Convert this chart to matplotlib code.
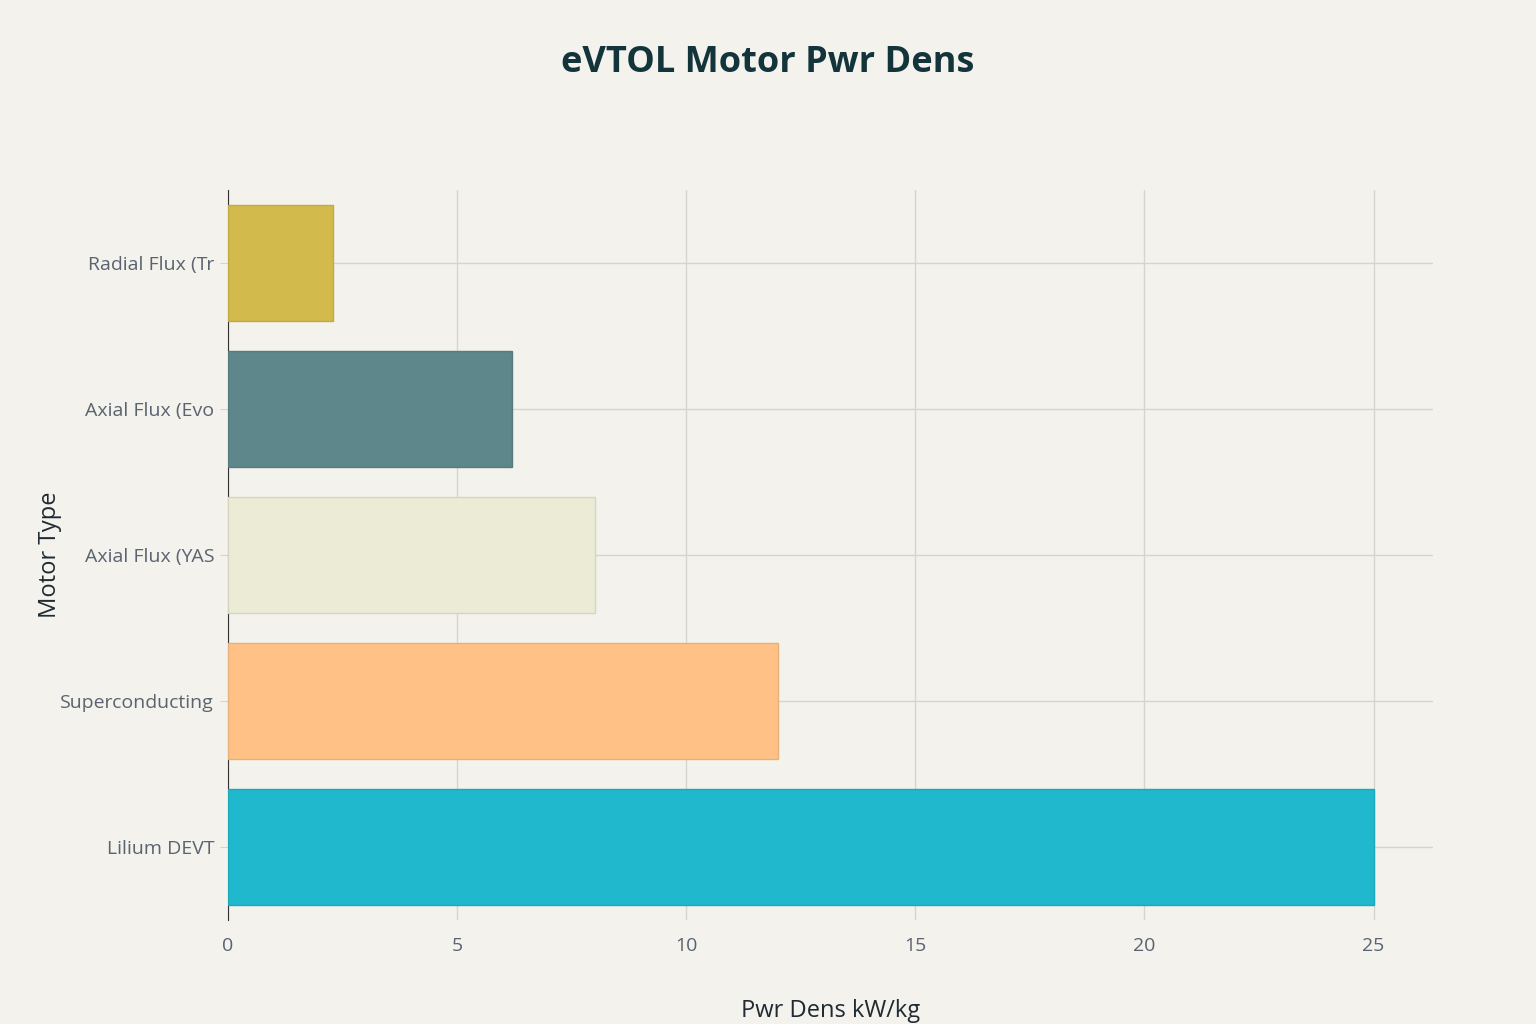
import matplotlib
matplotlib.use("Agg")
import matplotlib.pyplot as plt

categories = ["Radial Flux (Tr", "Axial Flux (Evo", "Axial Flux (YAS", "Superconducting", "Lilium DEVT"]
values = [2.3, 6.2, 8.0, 12.0, 25.0]
colors = ["#D2BA4C", "#5D878B", "#ECEBD5", "#FFC185", "#1FB8CD"]
edges = ["#C0AA45", "#557B7F", "#D6D5C0", "#E8B079", "#1CA8BB"]
xticks = [0, 5, 10, 15, 20, 25]

bg = "#F3F2EC"
fig = plt.figure(figsize=(15.36, 10.24), dpi=100, facecolor=bg)
ax = fig.add_axes([0.1484, 0.1016, 0.7846, 0.7129], facecolor=bg)
plt.rcParams["font.family"] = "DejaVu Sans"

y = list(range(len(categories)))
ax.barh(y, values, height=0.8, color=colors, edgecolor=edges, linewidth=1, zorder=3)
ax.set_ylim(4.5, -0.5)
ax.set_xlim(0, 26.3)
ax.set_yticks(y)
ax.set_yticklabels(categories, fontsize=14, color="#5A6470", fontfamily="Open Sans")
ax.set_xticks(xticks)
ax.set_xticklabels([str(t) for t in xticks], fontsize=14, color="#5A6470", fontfamily="Open Sans")
ax.grid(True, color="#D5D5D0", linewidth=1, zorder=0)
for s in ["top", "right", "bottom"]:
    ax.spines[s].set_visible(False)
ax.spines["left"].set_color("#333333")
ax.tick_params(axis="both", length=6, color="#D5D5D0", pad=4)
ax.tick_params(axis="x", length=0, pad=12)
ax.set_xlabel("Pwr Dens kW/kg", fontsize=17, color="#1F2A33", labelpad=32, fontfamily="Open Sans")
ax.set_ylabel("Motor Type", fontsize=17, color="#1F2A33", labelpad=8, fontfamily="Open Sans")
ax.yaxis.set_label_coords(-0.138, 0.5)
fig.text(0.5, 0.938, "eVTOL Motor Pwr Dens", ha="center", va="center", fontsize=26,
         fontweight="bold", color="#13343B", fontfamily="Open Sans")
fig.savefig("out.png", dpi=100, facecolor=bg)
